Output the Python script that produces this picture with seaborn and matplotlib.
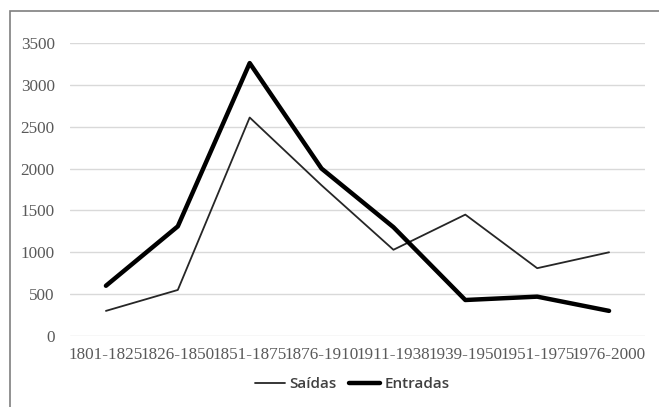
import matplotlib
matplotlib.use("Agg")
import matplotlib.pyplot as plt
import seaborn as sns
import pandas as pd
from matplotlib.patches import Rectangle
from matplotlib.lines import Line2D

categories = ["1801-1825", "1826-1850", "1851-1875", "1876-1910",
              "1911-1938", "1939-1950", "1951-1975", "1976-2000"]
saidas = [300, 550, 2610, 1800, 1030, 1450, 810, 1000]
entradas = [600, 1310, 3260, 2000, 1300, 430, 470, 300]
yticks = [0, 500, 1000, 1500, 2000, 2500, 3000, 3500]

sns.set_theme(style="white")
plt.rcParams['font.family'] = ['Liberation Serif', 'DejaVu Serif']

df = pd.DataFrame({
    "Período": categories * 2,
    "Valor": saidas + entradas,
    "Série": ["Saídas"] * len(categories) + ["Entradas"] * len(categories),
})
df["pos"] = list(range(len(categories))) * 2

fig = plt.figure(figsize=(6.59, 4.07), dpi=100)
ax = fig.add_axes([70/659, 1-336/407, 575/659, (336-43)/407])

sns.lineplot(data=df, x="pos", y="Valor", hue="Série", size="Série",
             palette={"Saídas": "#262626", "Entradas": "#000000"},
             sizes={"Saídas": 1.3, "Entradas": 3.2},
             ax=ax, legend=False, sort=False)

ax.set_xlim(-0.5, len(categories) - 0.5)
ax.set_ylim(0, 3500)
ax.set_yticks(yticks)
ax.set_yticklabels([str(v) for v in yticks])
ax.set_xticks(range(len(categories)))
ax.set_xticklabels(categories)
ax.set_xlabel("")
ax.set_ylabel("")
ax.grid(axis="y", color="#d9d9d9", linewidth=1)
ax.set_axisbelow(True)
for s in ax.spines.values():
    s.set_visible(False)
ax.tick_params(axis="both", length=0, labelsize=12.3, colors="#595959")
ax.tick_params(axis="x", pad=8)
ax.tick_params(axis="y", pad=11)

handles = [Line2D([], [], color="#262626", lw=1.3),
           Line2D([], [], color="#000000", lw=3.2)]
leg = fig.legend(handles, ["Saídas", "Entradas"], loc="center",
                 bbox_to_anchor=(352/659, 1-384/407), ncol=2, frameon=False,
                 prop={"family": "Open Sans", "size": 11, "weight": "semibold"},
                 handlelength=2.0, handletextpad=0.3, columnspacing=0.8)
for t in leg.get_texts():
    t.set_color("#404040")

fig.patches.append(Rectangle((10/659, -0.1), 1.2, 1-11/407+0.1,
                             transform=fig.transFigure, fill=False,
                             edgecolor="#7f7f7f", linewidth=1.2))

fig.savefig("out.png", dpi=100)
